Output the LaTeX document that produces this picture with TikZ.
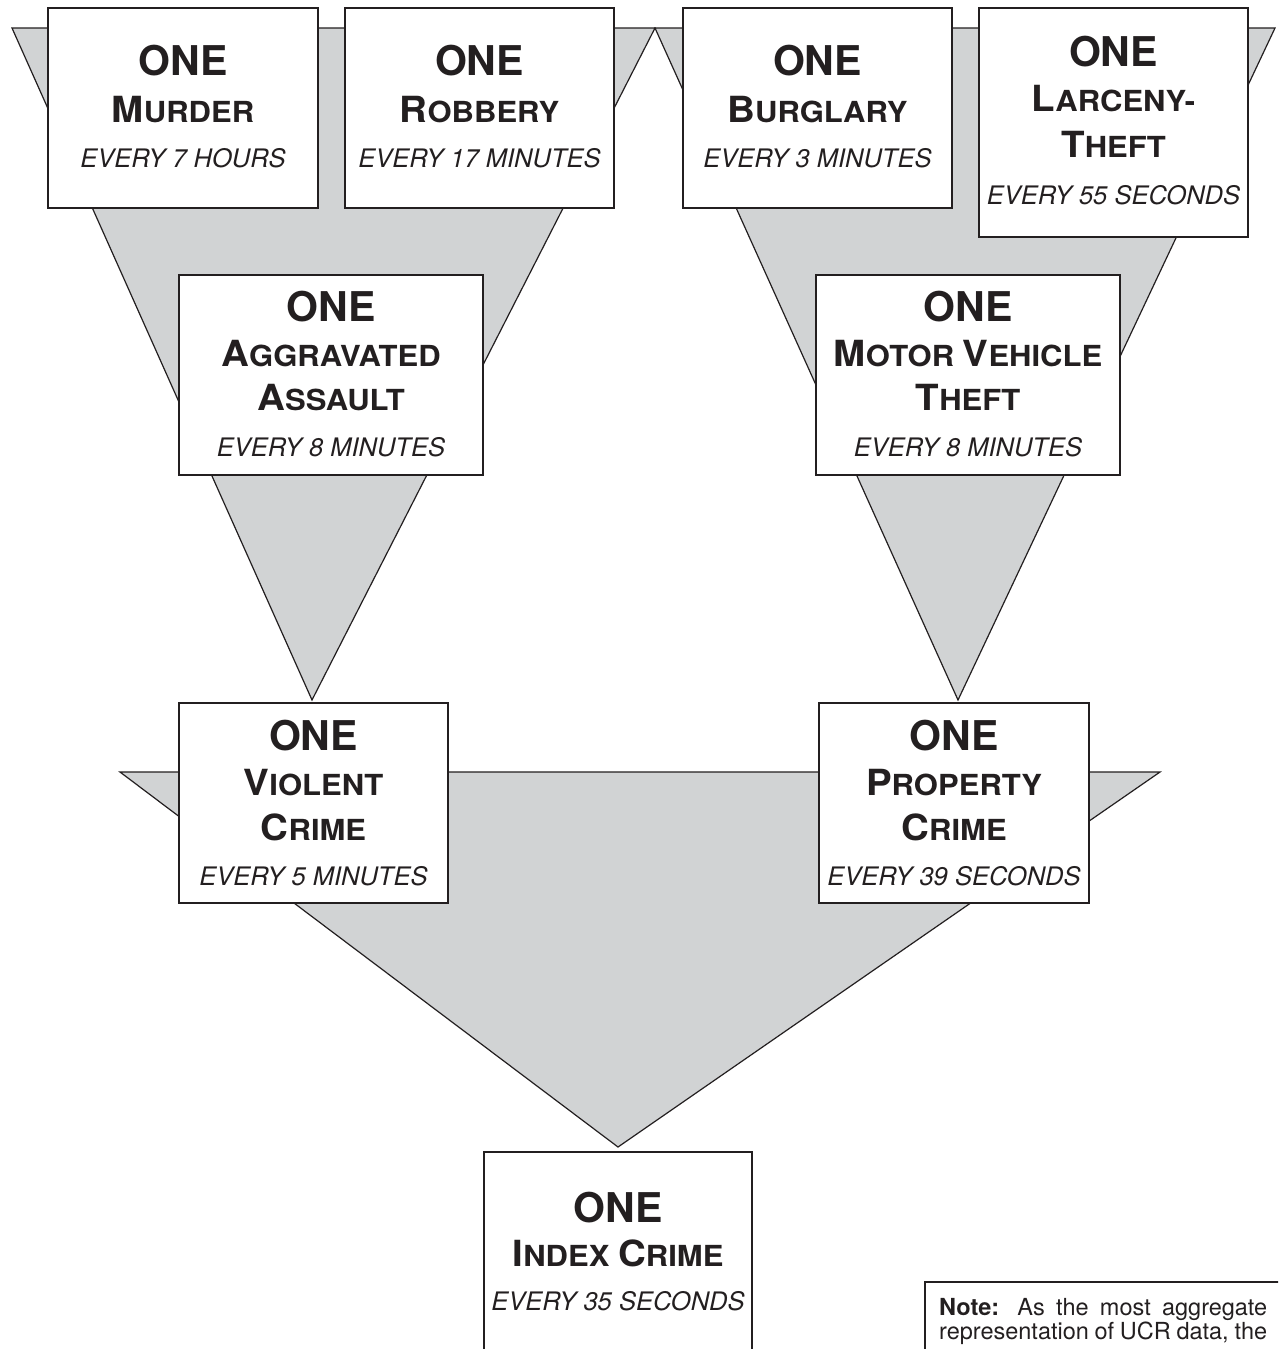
\documentclass[tikz,border=0pt]{standalone}
\usepackage{fontspec}
\setmainfont{TeX Gyre Heros}
\usepackage{graphicx}
\definecolor{trigray}{RGB}{209,211,212}
\definecolor{ink}{RGB}{35,31,32}
\newcommand\tbig{\fontsize{36}{36}\selectfont}
\newcommand\tsml{\fontsize{29}{29}\selectfont}
\newcommand\Sc[2]{{\tbig #1}{\tsml #2}}
\newcommand\tsp{{\tsml\ }}
\newcommand\wide[1]{\scalebox{1.07}[1]{#1}}
\begin{document}
\begin{tikzpicture}[x=1pt,y=-1pt,
  tri/.style={fill=trigray, draw=ink, line width=1.2pt, line join=miter},
  cbox/.style={draw=ink, fill=white, line width=2.6pt, rectangle, inner sep=0pt},
  onetxt/.style={anchor=base, inner sep=0pt, text=ink, font=\bfseries\fontsize{41}{41}\selectfont},
  ttl/.style={anchor=base, inner sep=0pt, text=ink, font=\bfseries},
  evry/.style={anchor=base, inner sep=0pt, text=ink, font=\itshape\fontsize{25.5}{25.5}\selectfont},
  notetxt/.style={anchor=base west, inner sep=0pt, text=ink, font=\fontsize{23.5}{23.5}\selectfont},
]
\useasboundingbox (0,0) rectangle (1278,1349);
\fill[white] (0,0) rectangle (1278,1349);
\clip (0,0) rectangle (1278,1349);

% funnels
\filldraw[tri] (12,28) -- (655,28) -- (312,700) -- cycle;
\filldraw[tri] (655,28) -- (1275,28) -- (958,700) -- cycle;
\filldraw[tri] (120,772) -- (1160,772) -- (618,1147) -- cycle;

% boxes
\node[cbox, minimum width=270pt, minimum height=200pt] (murder) at (183,108) {};
\node[cbox, minimum width=269pt, minimum height=200pt] (robbery) at (479.5,108) {};
\node[cbox, minimum width=269pt, minimum height=200pt] (burglary) at (817.5,108) {};
\node[cbox, minimum width=269pt, minimum height=229pt] (larceny) at (1113.5,122.5) {};
\node[cbox, minimum width=304pt, minimum height=200pt] (agg) at (331,375) {};
\node[cbox, minimum width=304pt, minimum height=200pt] (mvt) at (968,375) {};
\node[cbox, minimum width=269pt, minimum height=200pt] (violent) at (313.5,803) {};
\node[cbox, minimum width=270pt, minimum height=200pt] (property) at (954,803) {};
\node[cbox, minimum width=268pt, minimum height=260pt] (index) at (618,1282) {};

% texts: murder
\node[onetxt] (murder-one) at (183,75) {ONE};
\node[ttl] (murder-t) at (183,122) {\wide{\Sc{M}{URDER}}};
\node[evry] (murder-e) at (183,167) {EVERY 7 HOURS};
% robbery
\node[onetxt] (robbery-one) at (479.5,75) {ONE};
\node[ttl] (robbery-t) at (479.5,122) {\wide{\Sc{R}{OBBERY}}};
\node[evry] (robbery-e) at (479.5,167) {EVERY 17 MINUTES};
% burglary
\node[onetxt] (burglary-one) at (817.5,75) {ONE};
\node[ttl] (burglary-t) at (817.5,122) {\wide{\Sc{B}{URGLARY}}};
\node[evry] (burglary-e) at (817.5,167) {EVERY 3 MINUTES};
% larceny
\node[onetxt] (larceny-one) at (1113.5,66) {ONE};
\node[ttl] (larceny-t1) at (1113.5,111) {\wide{\Sc{L}{ARCENY-}}};
\node[ttl] (larceny-t2) at (1113.5,157) {\wide{\Sc{T}{HEFT}}};
\node[evry] (larceny-e) at (1113.5,204) {EVERY 55 SECONDS};
% aggravated assault
\node[onetxt] (agg-one) at (331,321) {ONE};
\node[ttl] (agg-t1) at (331,366) {\wide{\Sc{A}{GGRAVATED}}};
\node[ttl] (agg-t2) at (331,410) {\wide{\Sc{A}{SSAULT}}};
\node[evry] (agg-e) at (331,456) {EVERY 8 MINUTES};
% motor vehicle theft
\node[onetxt] (mvt-one) at (968,321) {ONE};
\node[ttl] (mvt-t1) at (968,366) {\wide{\Sc{M}{OTOR}\tsp\Sc{V}{EHICLE}}};
\node[ttl] (mvt-t2) at (968,410) {\wide{\Sc{T}{HEFT}}};
\node[evry] (mvt-e) at (968,456) {EVERY 8 MINUTES};
% violent crime
\node[onetxt] (violent-one) at (313.5,750) {ONE};
\node[ttl] (violent-t1) at (313.5,795) {\wide{\Sc{V}{IOLENT}}};
\node[ttl] (violent-t2) at (313.5,840) {\wide{\Sc{C}{RIME}}};
\node[evry] (violent-e) at (313.5,885) {EVERY 5 MINUTES};
% property crime
\node[onetxt] (property-one) at (954,750) {ONE};
\node[ttl] (property-t1) at (954,795) {\wide{\Sc{P}{ROPERTY}}};
\node[ttl] (property-t2) at (954,840) {\wide{\Sc{C}{RIME}}};
\node[evry] (property-e) at (954,885) {EVERY 39 SECONDS};
% index crime
\node[onetxt] (index-one) at (618,1222) {ONE};
\node[ttl] (index-t) at (618,1266) {\wide{\Sc{I}{NDEX}\tsp\Sc{C}{RIME}}};
\node[evry] (index-e) at (618,1310) {EVERY 35 SECONDS};

% note
\draw[draw=ink, line width=1.6pt] (925,1400) -- (925,1282) -- (1300,1282);
\node[notetxt] (note1) at (939,1315) {\makebox[328pt][s]{\textbf{Note:} As the most aggregate}};
\node[notetxt] (note2) at (939,1339) {\makebox[328pt][s]{representation of UCR data, the}};
\end{tikzpicture}
\end{document}
